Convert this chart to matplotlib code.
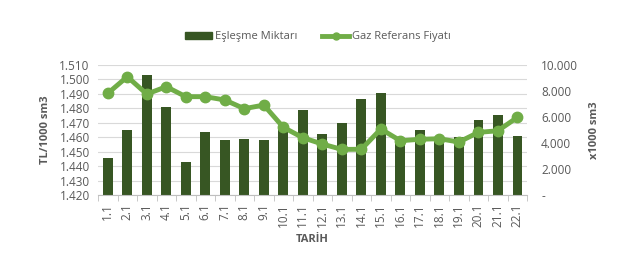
import matplotlib
matplotlib.use("Agg")
import matplotlib.pyplot as plt
from matplotlib.ticker import FuncFormatter, FixedLocator
from matplotlib.lines import Line2D
from matplotlib.patches import Patch
import numpy as np

categories = ["1.1", "2.1", "3.1", "4.1", "5.1", "6.1", "7.1", "8.1", "9.1", "10.1", "11.1",
              "12.1", "13.1", "14.1", "15.1", "16.1", "17.1", "18.1", "19.1", "20.1", "21.1", "22.1"]
eslesme = [2870, 5000, 9230, 6770, 2540, 4850, 4230, 4310, 4230, 5200, 6540,
           4690, 5540, 7380, 7850, 4380, 5000, 4490, 4440, 5770, 6150, 4540]
gaz_ref = [1490.4, 1501.9, 1489.9, 1495.0, 1488.1, 1488.1, 1485.8, 1479.8, 1482.3, 1466.9, 1459.7,
           1455.3, 1451.6, 1451.7, 1465.7, 1457.6, 1458.6, 1459.0, 1456.7, 1463.4, 1464.5, 1473.8]
left_ticks = [1420, 1430, 1440, 1450, 1460, 1470, 1480, 1490, 1500, 1510]
right_ticks = [0, 2000, 4000, 6000, 8000, 10000]

plt.rcParams['font.family'] = ['Open Sans', 'DejaVu Sans']
gray = "#595959"
bar_color = "#375623"
line_color = "#70AD47"

fig = plt.figure(figsize=(6.18, 2.54), dpi=100)
ax = fig.add_axes([0.1586, 0.232, 0.6944, 0.512])
ax2 = ax.twinx()

x = np.arange(len(categories))
ax2.bar(x, eslesme, width=0.5, color=bar_color, zorder=2, label="Eşleşme Miktarı")
ax2.set_ylim(0, 10000)
ax.set_ylim(1420, 1510)
ax.set_xlim(-0.5, len(categories) - 0.5)

ax.set_zorder(ax2.get_zorder() + 1)
ax.patch.set_visible(False)
ax.plot(x, gaz_ref, color=line_color, lw=3.5, marker='o', markersize=7.5,
        zorder=3, label="Gaz Referans Fiyatı")

for v in left_ticks:
    ax2.axhline((v - 1420) / 90 * 10000, color="#D9D9D9", lw=0.8, zorder=0)

def tr_fmt(v, pos):
    return f"{int(round(v)):,}".replace(",", ".")

def right_fmt(v, pos):
    if v == 0:
        return "-"
    return f"{int(round(v)):,}".replace(",", ".")

ax.yaxis.set_major_locator(FixedLocator(left_ticks))
ax.yaxis.set_major_formatter(FuncFormatter(tr_fmt))
ax2.yaxis.set_major_locator(FixedLocator(right_ticks))
ax2.yaxis.set_major_formatter(FuncFormatter(right_fmt))

for a in (ax, ax2):
    for s in a.spines.values():
        s.set_visible(False)
ax.spines['bottom'].set_visible(True)
ax.spines['bottom'].set_color("#BFBFBF")

ax.set_xticks(x)
ax.set_xticklabels(categories, rotation=90, fontsize=8.5, color=gray)
ax.xaxis.set_minor_locator(FixedLocator(np.arange(-0.5, len(categories), 1)))
ax.tick_params(axis='x', which='major', length=0, pad=6)
ax.tick_params(axis='x', which='minor', length=4, color="#BFBFBF")
ax.tick_params(axis='y', length=0, labelsize=8.5, colors=gray, pad=6)
ax2.tick_params(axis='y', length=0, labelsize=8.5, colors=gray, pad=10)

ax.set_ylabel("TL/1000 sm3", fontsize=8, fontweight='bold', color=gray, labelpad=6)
ax2.set_ylabel("x1000 sm3", fontsize=8, fontweight='bold', color=gray, labelpad=8)
ax.set_xlabel("TARİH", fontsize=8, fontweight='bold', color=gray, labelpad=5)

h1 = Patch(color=bar_color)
h2 = Line2D([], [], color=line_color, lw=3.5, marker='o', markersize=5)
fig.legend([h1, h2], ["Eşleşme Miktarı", "Gaz Referans Fiyatı"], loc='center',
           bbox_to_anchor=(0.515, 0.855), ncol=2,
           frameon=False, fontsize=8, labelcolor=gray, handlelength=2.4,
           handleheight=0.6, columnspacing=2.2, handletextpad=0.3)

fig.savefig("out.png", dpi=100)
